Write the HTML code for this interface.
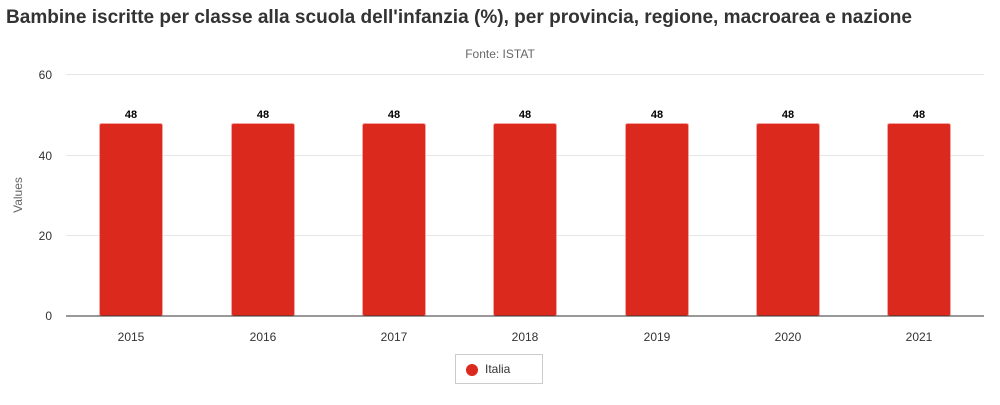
<!DOCTYPE html>
<html><head><meta charset="utf-8"><style>
body{margin:0;background:#fff;width:1000px;height:400px;overflow:hidden;font-family:"Liberation Sans",sans-serif}
</style></head><body>
<svg width="1000" height="400" xmlns="http://www.w3.org/2000/svg" font-family="Liberation Sans, sans-serif">
<text x="6" y="23" font-size="19" font-weight="bold" fill="#333" textLength="906" lengthAdjust="spacingAndGlyphs">Bambine iscritte per classe alla scuola dell'infanzia (%), per provincia, regione, macroarea e nazione</text>
<text x="500" y="58" font-size="12" fill="#666" text-anchor="middle">Fonte: ISTAT</text>
<g stroke="#e6e6e6" stroke-width="1">
<line x1="66" y1="74.5" x2="984" y2="74.5"/>
<line x1="66" y1="155.5" x2="984" y2="155.5"/>
<line x1="66" y1="235.5" x2="984" y2="235.5"/>
</g>
<g font-size="12" fill="#333" text-anchor="end">
<text x="52" y="79">60</text><text x="52" y="160">40</text><text x="52" y="240">20</text><text x="52" y="320">0</text>
</g>
<text transform="translate(22,195) rotate(-90)" font-size="12" fill="#666" text-anchor="middle">Values</text>
<g fill="#dc291e" stroke="#f4a5a0" stroke-width="1">
<rect x="99.5" y="123.5" width="63" height="192.5" rx="2"/>
<rect x="231.5" y="123.5" width="63" height="192.5" rx="2"/>
<rect x="362.5" y="123.5" width="63" height="192.5" rx="2"/>
<rect x="493.5" y="123.5" width="63" height="192.5" rx="2"/>
<rect x="625.5" y="123.5" width="63" height="192.5" rx="2"/>
<rect x="756.5" y="123.5" width="63" height="192.5" rx="2"/>
<rect x="887.5" y="123.5" width="63" height="192.5" rx="2"/>
</g>
<line x1="66" y1="316" x2="984" y2="316" stroke="#333" stroke-width="1"/>
<g font-size="11" font-weight="bold" fill="#000" text-anchor="middle">
<text x="131" y="118">48</text><text x="263" y="118">48</text><text x="394" y="118">48</text><text x="525" y="118">48</text><text x="657" y="118">48</text><text x="788" y="118">48</text><text x="919" y="118">48</text>
</g>
<g font-size="12" fill="#333" text-anchor="middle">
<text x="131" y="341">2015</text><text x="263" y="341">2016</text><text x="394" y="341">2017</text><text x="525" y="341">2018</text><text x="657" y="341">2019</text><text x="788" y="341">2020</text><text x="919" y="341">2021</text>
</g>
<rect x="455.5" y="354.5" width="87" height="29" fill="#fff" stroke="#ccc"/>
<circle cx="472" cy="370" r="6" fill="#dc291e"/>
<text x="485" y="373" font-size="12" fill="#333">Italia</text>
</svg>
</body></html>
